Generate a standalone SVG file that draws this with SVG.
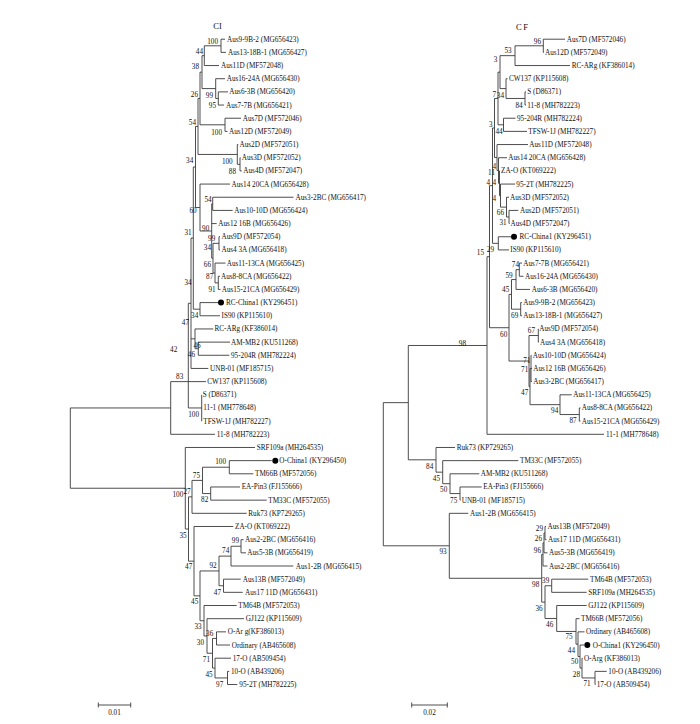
<svg xmlns="http://www.w3.org/2000/svg" width="700" height="724" viewBox="0 0 700 724">
<style>
.br{fill:none;stroke:#3a3a3a;stroke-width:0.9}
.t{font-family:'Liberation Serif','Times New Roman',serif;font-size:7.2px;fill:#111}
.b{font-family:'Liberation Serif','Times New Roman',serif;font-size:7.2px;fill:#111;text-anchor:end}
.ttl{font-family:'Liberation Serif','Times New Roman',serif;font-size:8.5px;fill:#111}
.dot{fill:#000}
</style>
<rect width="700" height="724" fill="#fff"/>
<g id="connectors" class="br">
<path id="ci-branches" d="M221 39.2V52.37M221 39.2H225M221 52.37H226M204.3 45.785V65.54M204.3 45.785H221M204.3 65.54H219M218.3 91.88V105.05M218.3 91.88H228M218.3 105.05H224M215.7 78.71V98.465M215.7 78.71H225M215.7 98.465H218.3M202 55.66V88.59M202 55.66H204.3M202 88.59H215.7M225 118.22V131.39M225 118.22H241M225 131.39H227.5M200 72.125V124.805M200 72.125H202M200 124.805H225M240 157.73V170.9M240 157.73H240.5M240 170.9H241.8M237.3 144.56V164.315M237.3 144.56H238.3M237.3 164.315H240M198 98.465V154.44M198 98.465H200M198 154.44H237.3M212.7 197.24V210.41M212.7 197.24H293.5M212.7 210.41H232.7M219 236.75V249.92M219 236.75H220M219 249.92H220M218.3 276.26V289.43M218.3 276.26H220M218.3 289.43H220.5M215 263.09V282.845M215 263.09H225.5M215 282.845H218.3M213 243.335V272.97M213 243.335H219M213 272.97H215M211.7 203.825V258.15M211.7 203.825H212.7M211.7 223.58H216.7M211.7 258.15H213M200 184.07V230.99M200 184.07H230M200 230.99H211.7M195.5 126.45V207.53M195.5 126.45H198M195.5 207.53H200M200 302.6V315.77M200 302.6H218.3M200 315.77H220M193.3 166.99V309.185M193.3 166.99H195.5M193.3 309.185H200M198.3 342.11V355.28M198.3 342.11H230M198.3 355.28H229.3M195 328.94V348.695M195 328.94H213.3M195 348.695H198.3M191 238.09V368.45M191 238.09H193.3M191 338.82H195M191 368.45H208.3M201.7 394.79V421.13M201.7 407.96H202M201.7 421.13H202M188.3 303.27V407.96M188.3 303.27H191M188.3 381.62H206M188.3 407.96H201.7M170.7 381.62V434.3M170.7 381.62H188.3M170.7 434.3H215M229.3 460.64V473.81M229.3 460.64H271.7M229.3 473.81H253.3M210.7 486.98V500.15M210.7 486.98H240M210.7 500.15H266.7M202.5 467.225V493.565M202.5 467.225H229.3M202.5 493.565H210.7M192 480.395V513.32M192 480.395H202.5M192 513.32H246.7M241 539.66V552.83M241 539.66H243.5M241 552.83H246M231 546.245V566M231 546.245H241M231 566H293.3M223.5 579.17V592.34M223.5 579.17H240.7M223.5 592.34H242.7M219 556.12V585.755M219 556.12H231M219 585.755H223.5M216.5 631.85V645.02M216.5 631.85H226M216.5 645.02H230M227.5 671.36V684.53M227.5 671.36H229.3M227.5 684.53H237.3M215 658.19V677.945M215 658.19H231M215 677.945H227.5M212.5 638.435V668.07M212.5 638.435H216.5M212.5 668.07H215M207 618.68V653.25M207 618.68H244M207 653.25H212.5M204 605.51V635.97M204 605.51H236.7M204 635.97H207M200 570.94V620.74M200 570.94H219M200 620.74H204M194 526.49V595.84M194 526.49H233.3M194 595.84H200M188.5 496.86V561.165M188.5 496.86H192M188.5 561.165H194M185.3 447.47V529.01M185.3 447.47H255M185.3 529.01H188.5M70.3 407.96V488.24M70.3 407.96H170.7M70.3 488.24H185.3"/>
<path id="cf-branches" d="M543.3 39.2V52.37M543.3 39.2H565M543.3 52.37H544M515 45.785V65.54M515 45.785H543.3M515 65.54H570M525 91.88V105.05M525 91.88H526M525 105.05H526M506 78.71V98.465M506 78.71H507.5M506 98.465H525M500 55.66V88.59M500 55.66H515M500 88.59H506M503.5 118.22V131.39M503.5 118.22H515.5M503.5 131.39H527M498 72.125V124.805M498 72.125H500M498 124.805H503.5M509 210.41V223.58M509 210.41H518.3M509 223.58H509.5M506.5 197.24V216.995M506.5 197.24H509M506.5 216.995H509M500.5 184.07V207.12M500.5 184.07H515M500.5 207.12H506.5M499.5 170.9V195.6M499.5 170.9H500M499.5 195.6H500.5M498.5 157.73V183.25M498.5 157.73H507M498.5 183.25H499.5M497 144.56V170.49M497 144.56H528M497 170.49H498.5M494.5 98.465V157.525M494.5 98.465H498M494.5 157.525H497M498.3 236.75V249.92M498.3 236.75H511M498.3 249.92H509M492.5 127.995V243.335M492.5 127.995H494.5M492.5 243.335H498.3M519.3 263.09V276.26M519.3 263.09H522M519.3 276.26H523.5M516 269.675V289.43M516 269.675H519.3M516 289.43H530M520.7 302.6V315.77M520.7 302.6H522M520.7 315.77H522M511.5 279.55V309.185M511.5 279.55H516M511.5 309.185H520.7M538.3 328.94V342.11M538.3 328.94H538.5M538.3 342.11H539M531 355.28V381.62M531 355.28H531.5M531 368.45H532M531 381.62H532M579.3 407.96V421.13M579.3 407.96H580.5M579.3 421.13H580.5M560 394.79V414.545M560 394.79H571.7M560 414.545H579.3M530 368.45V404.67M530 368.45H531M530 404.67H560M529 335.525V386.56M529 335.525H538.3M529 386.56H530M509 294.37V361.04M509 294.37H511.5M509 361.04H529M489.5 185.665V327.705M489.5 185.665H492.5M489.5 327.705H509M487 256.685V434.3M487 256.685H489.5M487 434.3H604M460 486.98V500.15M460 486.98H481.7M460 500.15H460.5M450 473.81V493.565M450 473.81H479.3M450 493.565H460M442.7 460.64V483.69M442.7 460.64H518.3M442.7 483.69H450M436 447.47V472.165M436 447.47H455M436 472.165H442.7M408.3 345.49V459.82M408.3 345.49H487M408.3 459.82H436M545 526.49V539.66M545 526.49H546M545 539.66H546.5M544 533.075V552.83M544 533.075H545M544 552.83H547.5M543 542.95V566M543 542.95H544M543 566H547.5M551.7 579.17V592.34M551.7 579.17H588.3M551.7 592.34H586.7M595 671.36V684.53M595 671.36H606.7M595 684.53H595.5M582 658.19V677.945M582 658.19H582.5M582 677.945H595M580 645.02V668.07M580 645.02H584M580 668.07H582M578 631.85V656.545M578 631.85H584.5M578 656.545H580M576 618.68V644.2M576 618.68H579.5M576 644.2H578M556.7 605.51V631.44M556.7 605.51H586.7M556.7 631.44H576M545 585.755V618.475M545 585.755H551.7M545 618.475H556.7M541.7 554.475V602.115M541.7 554.475H543M541.7 602.115H545M449.3 513.32V578.295M449.3 513.32H468.3M449.3 578.295H541.7M383.3 402.655V545.81M383.3 402.655H408.3M383.3 545.81H449.3"/>
</g>
<g id="titles">
<text class="ttl" x="213.3" y="28.5">CI</text>
<text class="ttl" x="516" y="30" letter-spacing="1.5">CF</text>
</g>
<g id="scale-bars">
<path class="br" d="M98.3 705H130.7M98.3 702.5V707.5M130.7 702.5V707.5M411.7 705H447.3M411.7 702.5V707.5M447.3 702.5V707.5"/>
<text class="t" x="114.5" y="714.5" text-anchor="middle">0.01</text>
<text class="t" x="429.5" y="714.5" text-anchor="middle">0.02</text>
</g>
<g id="markers">
<circle class="dot" cx="221" cy="302.6" r="3"/>
<circle class="dot" cx="275.3" cy="460.64" r="3"/>
<circle class="dot" cx="514" cy="236.75" r="3"/>
<circle class="dot" cx="587.3" cy="645.02" r="3"/>
</g>
<g id="ci-taxa">
<g id="ci-1"><text class="t" x="227" y="41.7">Aus9-9B-2 (MG656423)</text></g>
<g id="ci-2"><text class="t" x="228" y="54.87">Aus13-18B-1 (MG656427)</text></g>
<g id="ci-3"><text class="t" x="221" y="68.04">Aus11D (MF572048)</text></g>
<g id="ci-4"><text class="t" x="226.7" y="81.21">Aus16-24A (MG656430)</text></g>
<g id="ci-5"><text class="t" x="229.3" y="94.38">Aus6-3B (MG656420)</text></g>
<g id="ci-6"><text class="t" x="226" y="107.55">Aus7-7B (MG656421)</text></g>
<g id="ci-7"><text class="t" x="242.7" y="120.72">Aus7D (MF572046)</text></g>
<g id="ci-8"><text class="t" x="229" y="133.89">Aus12D (MF572049)</text></g>
<g id="ci-9"><text class="t" x="239.5" y="147.06">Aus2D (MF572051)</text></g>
<g id="ci-10"><text class="t" x="241.7" y="160.23">Aus3D (MF572052)</text></g>
<g id="ci-11"><text class="t" x="243.3" y="173.4">Aus4D (MF572047)</text></g>
<g id="ci-12"><text class="t" x="231.5" y="186.57">Aus14 20CA (MG656428)</text></g>
<g id="ci-13"><text class="t" x="295.5" y="199.74">Aus3-2BC (MG656417)</text></g>
<g id="ci-14"><text class="t" x="234.3" y="212.91">Aus10-10D (MG656424)</text></g>
<g id="ci-15"><text class="t" x="218.3" y="226.08">Aus12 16B (MG656426)</text></g>
<g id="ci-16"><text class="t" x="221.5" y="239.25">Aus9D (MF572054)</text></g>
<g id="ci-17"><text class="t" x="221.5" y="252.42">Aus4 3A (MG656418)</text></g>
<g id="ci-18"><text class="t" x="226.7" y="265.59">Aus11-13CA (MG656425)</text></g>
<g id="ci-19"><text class="t" x="221" y="278.76">Aus8-8CA (MG656422)</text></g>
<g id="ci-20"><text class="t" x="221.7" y="291.93">Aus15-21CA (MG656429)</text></g>
<g id="ci-21"><text class="t" x="226" y="305.1">RC-China1 (KY296451)</text></g>
<g id="ci-22"><text class="t" x="221.5" y="318.27">IS90 (KP115610)</text></g>
<g id="ci-23"><text class="t" x="214.5" y="331.44">RC-ARg (KF386014)</text></g>
<g id="ci-24"><text class="t" x="231" y="344.61">AM-MB2 (KU511268)</text></g>
<g id="ci-25"><text class="t" x="231" y="357.78">95-204R (MH782224)</text></g>
<g id="ci-26"><text class="t" x="210" y="370.95">UNB-01 (MF185715)</text></g>
<g id="ci-27"><text class="t" x="207.3" y="384.12">CW137 (KP115608)</text></g>
<g id="ci-28"><text class="t" x="202.7" y="397.29">S (D86371)</text></g>
<g id="ci-29"><text class="t" x="203.3" y="410.46">11-1 (MH778648)</text></g>
<g id="ci-30"><text class="t" x="203.3" y="423.63">TFSW-1J (MH782227)</text></g>
<g id="ci-31"><text class="t" x="216.7" y="436.8">11-8 (MH782223)</text></g>
<g id="ci-32"><text class="t" x="256.7" y="449.97">SRF109a (MH264535)</text></g>
<g id="ci-33"><text class="t" x="279.3" y="463.14">O-China1 (KY296450)</text></g>
<g id="ci-34"><text class="t" x="255" y="476.31">TM66B (MF572056)</text></g>
<g id="ci-35"><text class="t" x="241.7" y="489.48">EA-Pin3 (FJ155666)</text></g>
<g id="ci-36"><text class="t" x="268.3" y="502.65">TM33C (MF572055)</text></g>
<g id="ci-37"><text class="t" x="248.3" y="515.82">Ruk73 (KP729265)</text></g>
<g id="ci-38"><text class="t" x="235" y="528.99">ZA-O (KT069222)</text></g>
<g id="ci-39"><text class="t" x="245" y="542.16">Aus2-2BC (MG656416)</text></g>
<g id="ci-40"><text class="t" x="247.3" y="555.33">Aus5-3B (MG656419)</text></g>
<g id="ci-41"><text class="t" x="295.7" y="568.5">Aus1-2B (MG656415)</text></g>
<g id="ci-42"><text class="t" x="242.7" y="581.67">Aus13B (MF572049)</text></g>
<g id="ci-43"><text class="t" x="245" y="594.84">Aus17 11D (MG656431)</text></g>
<g id="ci-44"><text class="t" x="238.3" y="608.01">TM64B (MF572053)</text></g>
<g id="ci-45"><text class="t" x="245.7" y="621.18">GJ122 (KP115609)</text></g>
<g id="ci-46"><text class="t" x="227.7" y="634.35">O-Ar g(KF386013)</text></g>
<g id="ci-47"><text class="t" x="231.7" y="647.52">Ordinary (AB465608)</text></g>
<g id="ci-48"><text class="t" x="232.7" y="660.69">17-O (AB509454)</text></g>
<g id="ci-49"><text class="t" x="231" y="673.86">10-O (AB439206)</text></g>
<g id="ci-50"><text class="t" x="239.3" y="687.03">95-2T (MH782225)</text></g>
</g>
<g id="cf-taxa">
<g id="cf-1"><text class="t" x="566.7" y="41.7">Aus7D (MF572046)</text></g>
<g id="cf-2"><text class="t" x="545" y="54.87">Aus12D (MF572049)</text></g>
<g id="cf-3"><text class="t" x="571.7" y="68.04">RC-ARg (KF386014)</text></g>
<g id="cf-4"><text class="t" x="509" y="81.21">CW137 (KP115608)</text></g>
<g id="cf-5"><text class="t" x="527.3" y="94.38">S (D86371)</text></g>
<g id="cf-6"><text class="t" x="527.3" y="107.55">11-8 (MH782223)</text></g>
<g id="cf-7"><text class="t" x="517" y="120.72">95-204R (MH782224)</text></g>
<g id="cf-8"><text class="t" x="528.3" y="133.89">TFSW-1J (MH782227)</text></g>
<g id="cf-9"><text class="t" x="529.3" y="147.06">Aus11D (MF572048)</text></g>
<g id="cf-10"><text class="t" x="508.3" y="160.23">Aus14 20CA (MG656428)</text></g>
<g id="cf-11"><text class="t" x="501" y="173.4">ZA-O (KT069222)</text></g>
<g id="cf-12"><text class="t" x="516.3" y="186.57">95-2T (MH782225)</text></g>
<g id="cf-13"><text class="t" x="510" y="199.74">Aus3D (MF572052)</text></g>
<g id="cf-14"><text class="t" x="520" y="212.91">Aus2D (MF572051)</text></g>
<g id="cf-15"><text class="t" x="510.5" y="226.08">Aus4D (MF572047)</text></g>
<g id="cf-16"><text class="t" x="519.5" y="239.25">RC-China1 (KY296451)</text></g>
<g id="cf-17"><text class="t" x="510.3" y="252.42">IS90 (KP115610)</text></g>
<g id="cf-18"><text class="t" x="523.3" y="265.59">Aus7-7B (MG656421)</text></g>
<g id="cf-19"><text class="t" x="525" y="278.76">Aus16-24A (MG656430)</text></g>
<g id="cf-20"><text class="t" x="531.7" y="291.93">Aus6-3B (MG656420)</text></g>
<g id="cf-21"><text class="t" x="523.3" y="305.1">Aus9-9B-2 (MG656423)</text></g>
<g id="cf-22"><text class="t" x="523.3" y="318.27">Aus13-18B-1 (MG656427)</text></g>
<g id="cf-23"><text class="t" x="539.3" y="331.44">Aus9D (MF572054)</text></g>
<g id="cf-24"><text class="t" x="540" y="344.61">Aus4 3A (MG656418)</text></g>
<g id="cf-25"><text class="t" x="532.7" y="357.78">Aus10-10D (MG656424)</text></g>
<g id="cf-26"><text class="t" x="533.3" y="370.95">Aus12 16B (MG656426)</text></g>
<g id="cf-27"><text class="t" x="533.3" y="384.12">Aus3-2BC (MG656417)</text></g>
<g id="cf-28"><text class="t" x="573.3" y="397.29">Aus11-13CA (MG656425)</text></g>
<g id="cf-29"><text class="t" x="581.7" y="410.46">Aus8-8CA (MG656422)</text></g>
<g id="cf-30"><text class="t" x="581.7" y="423.63">Aus15-21CA (MG656429)</text></g>
<g id="cf-31"><text class="t" x="606" y="436.8">11-1 (MH778648)</text></g>
<g id="cf-32"><text class="t" x="456.7" y="449.97">Ruk73 (KP729265)</text></g>
<g id="cf-33"><text class="t" x="520" y="463.14">TM33C (MF572055)</text></g>
<g id="cf-34"><text class="t" x="480.7" y="476.31">AM-MB2 (KU511268)</text></g>
<g id="cf-35"><text class="t" x="483.3" y="489.48">EA-Pin3 (FJ155666)</text></g>
<g id="cf-36"><text class="t" x="461.7" y="502.65">UNB-01 (MF185715)</text></g>
<g id="cf-37"><text class="t" x="470" y="515.82">Aus1-2B (MG656415)</text></g>
<g id="cf-38"><text class="t" x="547.5" y="528.99">Aus13B (MF572049)</text></g>
<g id="cf-39"><text class="t" x="548" y="542.16">Aus17 11D (MG656431)</text></g>
<g id="cf-40"><text class="t" x="549" y="555.33">Aus5-3B (MG656419)</text></g>
<g id="cf-41"><text class="t" x="549" y="568.5">Aus2-2BC (MG656416)</text></g>
<g id="cf-42"><text class="t" x="590" y="581.67">TM64B (MF572053)</text></g>
<g id="cf-43"><text class="t" x="588.3" y="594.84">SRF109a (MH264535)</text></g>
<g id="cf-44"><text class="t" x="588.3" y="608.01">GJ122 (KP115609)</text></g>
<g id="cf-45"><text class="t" x="581" y="621.18">TM66B (MF572056)</text></g>
<g id="cf-46"><text class="t" x="586" y="634.35">Ordinary (AB465608)</text></g>
<g id="cf-47"><text class="t" x="592.7" y="647.52">O-China1 (KY296450)</text></g>
<g id="cf-48"><text class="t" x="584" y="660.69">O-Arg (KF386013)</text></g>
<g id="cf-49"><text class="t" x="608.3" y="673.86">10-O (AB439206)</text></g>
<g id="cf-50"><text class="t" x="596.7" y="687.03">17-O (AB509454)</text></g>
</g>
<g id="ci-bootstrap">
<text class="b" x="218" y="43.8">100</text>
<text class="b" x="203" y="54.2">44</text>
<text class="b" x="199" y="69.2">38</text>
<text class="b" x="198" y="96.8">26</text>
<text class="b" x="213" y="97.5">99</text>
<text class="b" x="216" y="107.5">95</text>
<text class="b" x="196" y="124.5">54</text>
<text class="b" x="222" y="134.5">100</text>
<text class="b" x="193.3" y="162.8">34</text>
<text class="b" x="232.7" y="163.5">100</text>
<text class="b" x="236" y="173.8">88</text>
<text class="b" x="211.7" y="201.5">54</text>
<text class="b" x="196.7" y="212.5">60</text>
<text class="b" x="209.3" y="231.2">90</text>
<text class="b" x="191.7" y="235.2">31</text>
<text class="b" x="215.3" y="240.8">99</text>
<text class="b" x="211" y="249.8">34</text>
<text class="b" x="211" y="266.8">66</text>
<text class="b" x="213.3" y="278.8">87</text>
<text class="b" x="191.7" y="285.2">34</text>
<text class="b" x="215.7" y="291.8">91</text>
<text class="b" x="198.3" y="317.5">34</text>
<text class="b" x="189" y="324.8">47</text>
<text class="b" x="200.7" y="347.5">46</text>
<text class="b" x="177.3" y="351.8">42</text>
<text class="b" x="195" y="357.2">46</text>
<text class="b" x="183.3" y="378.5">83</text>
<text class="b" x="199" y="416.8">100</text>
<text class="b" x="226" y="464.2">100</text>
<text class="b" x="200" y="477.5">75</text>
<text class="b" x="190.7" y="494.2">27</text>
<text class="b" x="183.3" y="496.8">100</text>
<text class="b" x="208.3" y="501.8">82</text>
<text class="b" x="186.7" y="537.5">35</text>
<text class="b" x="239" y="543.2">99</text>
<text class="b" x="229.3" y="553.2">74</text>
<text class="b" x="216.7" y="567.8">92</text>
<text class="b" x="192.3" y="569.2">47</text>
<text class="b" x="221" y="594.5">47</text>
<text class="b" x="198.3" y="603.8">45</text>
<text class="b" x="201.7" y="628.5">33</text>
<text class="b" x="213.3" y="635.5">36</text>
<text class="b" x="204" y="644.8">30</text>
<text class="b" x="210" y="661.8">71</text>
<text class="b" x="212.7" y="676.5">45</text>
<text class="b" x="223.3" y="686.5">97</text>
</g>
<g id="cf-bootstrap">
<text class="b" x="541" y="43.8">96</text>
<text class="b" x="511.7" y="53.2">53</text>
<text class="b" x="497.3" y="61.8">3</text>
<text class="b" x="496" y="96.5">7</text>
<text class="b" x="504" y="97.5">34</text>
<text class="b" x="522.7" y="107.8">84</text>
<text class="b" x="492.7" y="126.5">3</text>
<text class="b" x="502.7" y="133.8">44</text>
<text class="b" x="496" y="168.5">4</text>
<text class="b" x="495" y="175">11</text>
<text class="b" x="490" y="184.5">4</text>
<text class="b" x="496" y="184.5">4</text>
<text class="b" x="496" y="200.8">4</text>
<text class="b" x="504" y="214.5">66</text>
<text class="b" x="506.7" y="225.2">31</text>
<text class="b" x="494" y="252.2">29</text>
<text class="b" x="484" y="254.8">15</text>
<text class="b" x="519" y="266.5">74</text>
<text class="b" x="512.7" y="277.5">59</text>
<text class="b" x="509.3" y="291.8">45</text>
<text class="b" x="518.3" y="317.8">69</text>
<text class="b" x="535" y="333.2">67</text>
<text class="b" x="507.3" y="336.5">60</text>
<text class="b" x="466" y="345.5">98</text>
<text class="b" x="530.5" y="362.8">71</text>
<text class="b" x="528.3" y="371.8">71</text>
<text class="b" x="528.3" y="395.2">47</text>
<text class="b" x="558.3" y="413.2">94</text>
<text class="b" x="576.7" y="423.2">87</text>
<text class="b" x="433.3" y="468.5">84</text>
<text class="b" x="440" y="480.8">45</text>
<text class="b" x="447.3" y="491.8">50</text>
<text class="b" x="457.3" y="502.5">75</text>
<text class="b" x="543" y="531.1">29</text>
<text class="b" x="542" y="541">26</text>
<text class="b" x="541" y="552.5">96</text>
<text class="b" x="446.7" y="554.2">93</text>
<text class="b" x="549.3" y="582.5">39</text>
<text class="b" x="539.3" y="586.5">98</text>
<text class="b" x="542.7" y="610.8">36</text>
<text class="b" x="553.3" y="626.8">46</text>
<text class="b" x="572.7" y="639.2">75</text>
<text class="b" x="575" y="652.5">44</text>
<text class="b" x="578.3" y="664.2">50</text>
<text class="b" x="580" y="676.5">28</text>
<text class="b" x="590.7" y="685.8">71</text>
</g>
</svg>
